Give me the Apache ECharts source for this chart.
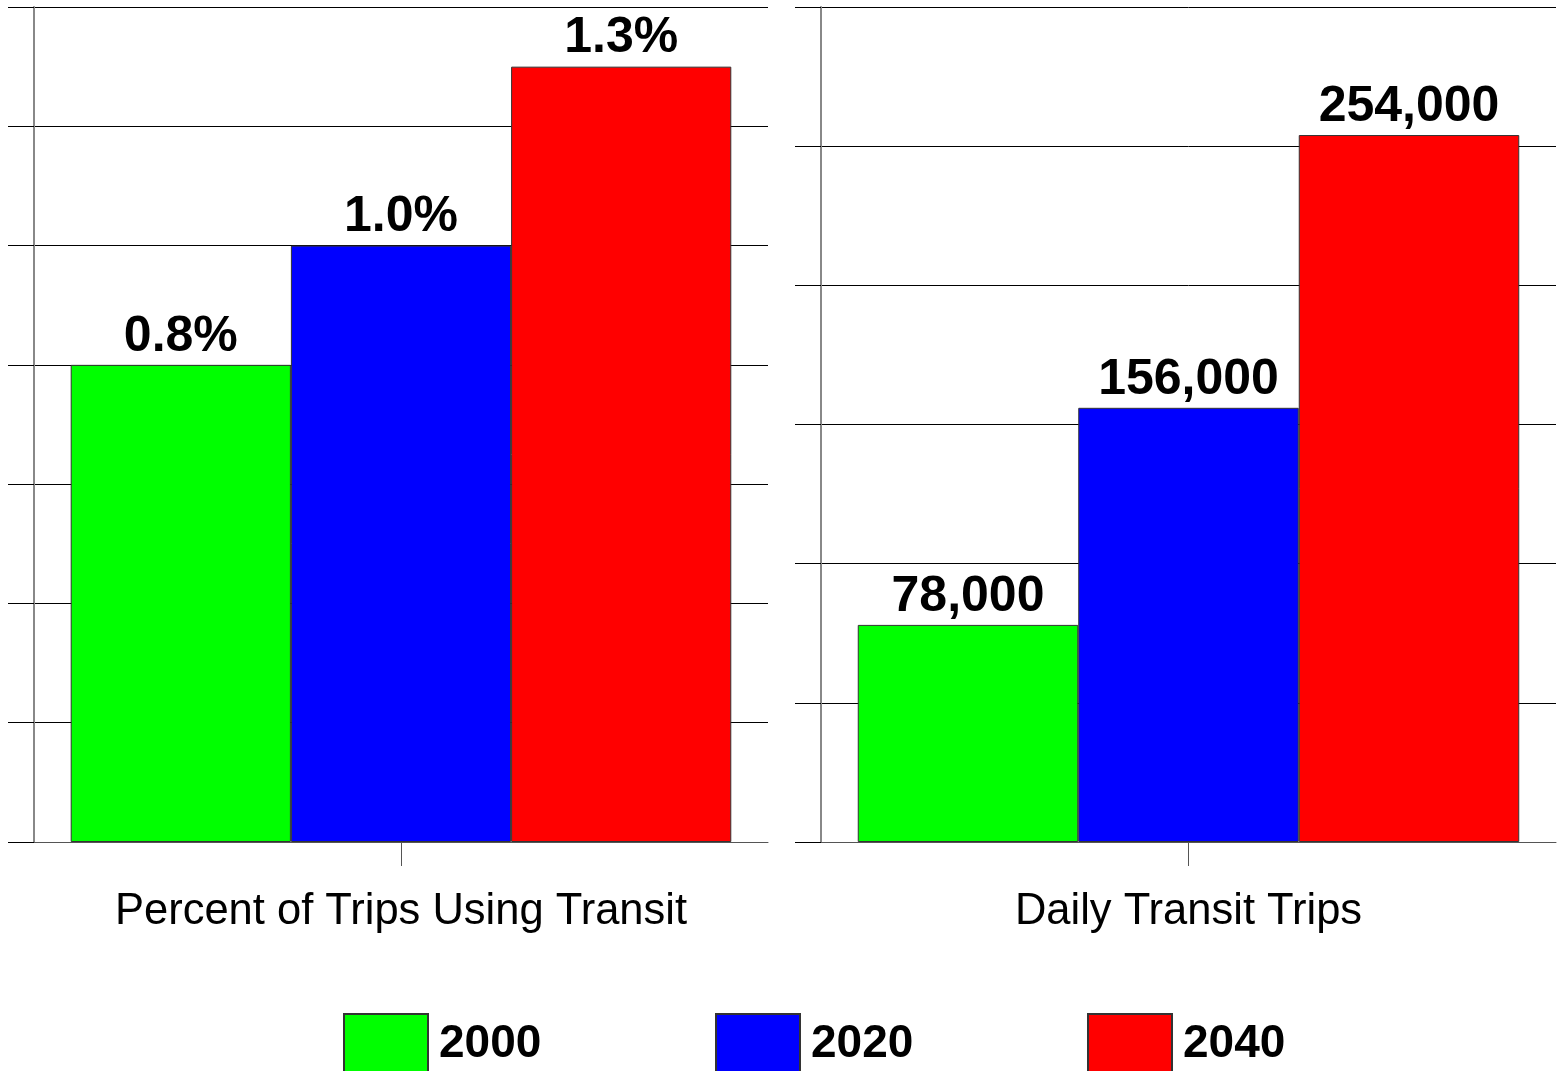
<!DOCTYPE html>
<html>
<head>
<meta charset="utf-8">
<title>Transit Trips</title>
<script src="https://cdn.jsdelivr.net/npm/echarts@6/dist/echarts.min.js"></script>
<style>
  html, body { margin: 0; padding: 0; background: #fff; }
  #chart { width: 1560px; height: 1071px; }
</style>
</head>
<body>
<div id="chart"></div>
<script>
// Years shown as series
const years = ['2000', '2020', '2040'];
const yearColors = ['#00ff00', '#0000ff', '#ff0000'];

// Left panel: share of trips made by transit (%)
const shareCategory = ['Percent of Trips Using Transit'];
const shareValues = [0.8, 1.0, 1.3];

// Right panel: daily transit trips
const tripsCategory = ['Daily Transit Trips'];
const tripsValues = [78000, 156000, 254000];

const FONT = "'Liberation Sans', Arial, sans-serif";

const chart = echarts.init(document.getElementById('chart'), null, { renderer: 'canvas' });

function valueAxis(gridIndex, max, interval) {
  return {
    type: 'value', gridIndex, min: 0, max, interval,
    axisLine: { show: true, lineStyle: { color: '#888', width: 2 } },
    axisTick: { show: true, inside: false, length: 26, lineStyle: { color: '#000', width: 1 } },
    axisLabel: { show: false },
    splitLine: { show: true, lineStyle: { color: '#000', width: 1 } }
  };
}

function categoryAxis(gridIndex, data) {
  return {
    type: 'category', gridIndex, data,
    axisLine: { show: true, lineStyle: { color: '#555', width: 1 } },
    axisTick: { show: true, alignWithLabel: true, length: 24, lineStyle: { color: '#555', width: 1 } },
    axisLabel: { margin: 48, color: '#000', fontFamily: FONT, fontSize: 43.5 }
  };
}

function barSeries(axisIndex, values, fmt) {
  return years.map((y, i) => ({
    name: y,
    type: 'bar',
    xAxisIndex: axisIndex,
    yAxisIndex: axisIndex,
    data: [values[i]],
    barGap: 0,
    barCategoryGap: '10%',
    itemStyle: { color: yearColors[i], borderColor: '#333', borderWidth: 1 },
    label: {
      show: true, position: 'top', distance: 3,
      color: '#000', fontFamily: FONT, fontWeight: 'bold', fontSize: 50,
      formatter: p => fmt(p.value)
    },
    animation: false
  }));
}

function legendFor(i, left) {
  return {
    data: [years[i]],
    left, top: 1013, padding: 0,
    icon: 'rect', itemWidth: 84, itemHeight: 60,
    textStyle: { color: '#000', fontFamily: FONT, fontWeight: 'bold', fontSize: 46, padding: [0, 0, 0, 6] },
    selectedMode: false
  };
}

chart.setOption({
  backgroundColor: '#fff',
  animation: false,
  grid: [
    { left: 34, top: 7, width: 734, bottom: 229 },
    { left: 821, top: 7, width: 735, bottom: 229 }
  ],
  xAxis: [categoryAxis(0, shareCategory), categoryAxis(1, tripsCategory)],
  yAxis: [valueAxis(0, 1.4, 0.2), valueAxis(1, 300000, 50000)],
  legend: [legendFor(0, 343), legendFor(1, 715), legendFor(2, 1087)],
  series: [
    ...barSeries(0, shareValues, v => v.toFixed(1) + '%'),
    ...barSeries(1, tripsValues, v => v.toLocaleString('en-US'))
  ]
});
</script>
</body>
</html>
